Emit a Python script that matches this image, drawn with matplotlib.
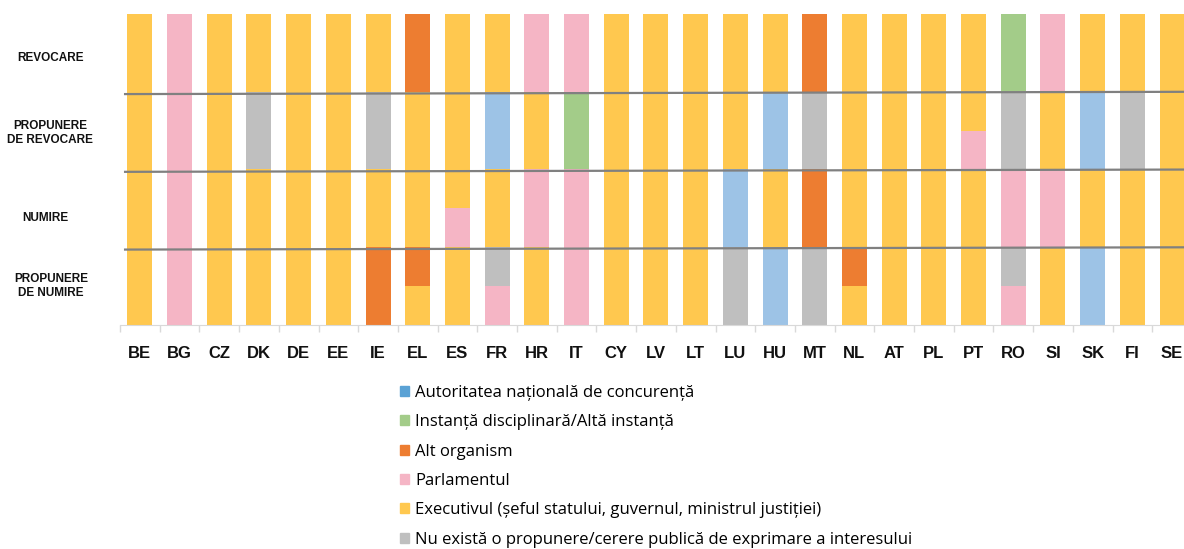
import matplotlib
matplotlib.use('Agg')
import matplotlib.pyplot as plt
from matplotlib.patches import Patch
from matplotlib.transforms import blended_transform_factory

plt.rcParams['font.family'] = ['Liberation Sans', 'DejaVu Sans']

countries = ['BE', 'BG', 'CZ', 'DK', 'DE', 'EE', 'IE', 'EL', 'ES', 'FR', 'HR', 'IT', 'CY', 'LV',
             'LT', 'LU', 'HU', 'MT', 'NL', 'AT', 'PL', 'PT', 'RO', 'SI', 'SK', 'FI', 'SE']

# body codes per stage, "A/B" = lower half A, upper half B
# Y executive, P parliament, O other body, G no public call, B competition authority, V court
propunere_numire = ['Y', 'P', 'Y', 'Y', 'Y', 'Y', 'O', 'Y/O', 'Y', 'P/G', 'Y', 'P', 'Y', 'Y',
                    'Y', 'G', 'B', 'G', 'Y/O', 'Y', 'Y', 'Y', 'P/G', 'Y', 'B', 'Y', 'Y']
numire = ['Y', 'P', 'Y', 'Y', 'Y', 'Y', 'Y', 'Y', 'P/Y', 'Y', 'P', 'P', 'Y', 'Y',
          'Y', 'B', 'Y', 'O', 'Y', 'Y', 'Y', 'Y', 'P', 'P', 'Y', 'Y', 'Y']
propunere_revocare = ['Y', 'P', 'Y', 'G', 'Y', 'Y', 'G', 'Y', 'Y', 'B', 'Y', 'V', 'Y', 'Y',
                      'Y', 'Y', 'B', 'G', 'Y', 'Y', 'Y', 'P/Y', 'G', 'Y', 'B', 'G', 'Y']
revocare = ['Y', 'P', 'Y', 'Y', 'Y', 'Y', 'Y', 'O', 'Y', 'Y', 'P', 'P', 'Y', 'Y',
            'Y', 'Y', 'Y', 'O', 'Y', 'Y', 'Y', 'Y', 'V', 'P', 'Y', 'Y', 'Y']

stages = [propunere_numire, numire, propunere_revocare, revocare]
stage_labels = ['PROPUNERE\nDE NUMIRE', 'NUMIRE', 'PROPUNERE\nDE REVOCARE', 'REVOCARE']

legend_codes = ['B', 'V', 'O', 'P', 'Y', 'G']
legend_labels = ['Autoritatea națională de concurență',
                 'Instanță disciplinară/Altă instanță',
                 'Alt organism',
                 'Parlamentul',
                 'Executivul (șeful statului, guvernul, ministrul justiției)',
                 'Nu există o propunere/cerere publică de exprimare a interesului']

bar_colors = {'Y': '#FFC84F', 'P': '#F5B5C5', 'O': '#ED7D31', 'G': '#BFBFBF',
              'B': '#9DC3E6', 'V': '#A3CC89'}
legend_colors = dict(bar_colors, B='#5AA2D5')

W, H = 1184, 549
fig = plt.figure(figsize=(W / 100, H / 100), dpi=100)
step = 39.7
ax = fig.add_axes([120 / W, (H - 325) / H, len(countries) * step / W, 311 / H])

for level, codes in enumerate(stages):
    for j, code in enumerate(codes):
        parts = code.split('/')
        h = 1 / len(parts)
        for k, p in enumerate(parts):
            ax.bar(j, h, bottom=level + k * h, width=0.63, color=bar_colors[p], linewidth=0)

# separators between stages (slightly tilted as drawn by hand)
for level in range(1, len(stages)):
    ax.plot([-0.4, len(countries)], [level - 0.03, level], color='#808080', lw=1.6,
            solid_capstyle='butt', clip_on=False, zorder=5)

ax.set_xlim(-0.5, len(countries) - 0.5)
ax.set_ylim(0, len(stages))
ax.set_yticks([])
ax.set_xticks(range(len(countries)))
ax.set_xticklabels(countries, fontsize=12, fontweight='bold', color='#111111')
ax.tick_params(axis='x', length=0, pad=15)
ax.set_xticks([i - 0.5 for i in range(len(countries) + 1)], minor=True)
ax.tick_params(axis='x', which='minor', length=5, color='#D9D9D9', width=1)
for s in ['top', 'left', 'right']:
    ax.spines[s].set_visible(False)
ax.spines['bottom'].set_color('#D9D9D9')

tr = blended_transform_factory(fig.transFigure, ax.transData)
label_x = [51, 45, 50, 50]
label_dy = [0.0, -0.12, -0.03, -0.06]
for level, lab in enumerate(stage_labels):
    ax.text(label_x[level] / W, level + 0.5 + label_dy[level], lab, transform=tr,
            ha='center', va='center', multialignment='center', fontsize=8.5,
            fontweight='bold', color='#111111', linespacing=1.3)

handles = [Patch(color=legend_colors[c], label=l) for c, l in zip(legend_codes, legend_labels)]
fig.legend(handles=handles, loc='upper left', bbox_to_anchor=(400 / W, 1 - 385 / H),
           frameon=False, prop={'family': 'Open Sans', 'size': 12},
           handlelength=0.55, handleheight=0.55, handletextpad=0.35,
           labelspacing=0.8, borderpad=0, borderaxespad=0)

fig.savefig('out.png', dpi=100)
